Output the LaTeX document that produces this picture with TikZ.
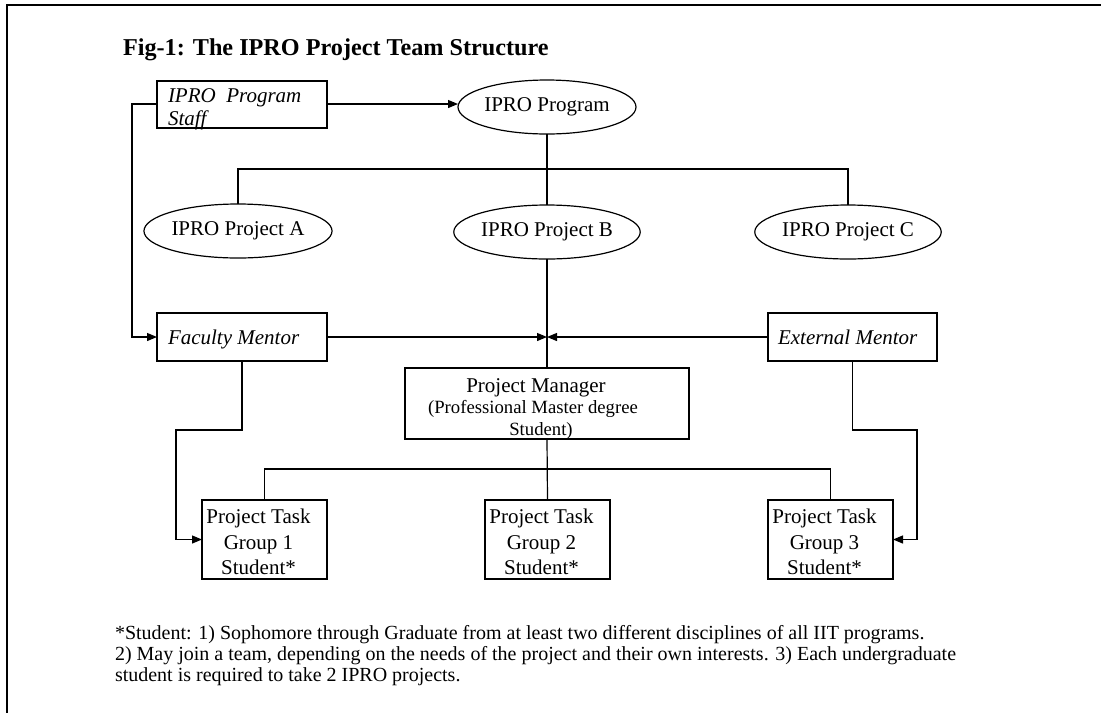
\documentclass[tikz,border=0pt]{standalone}
\usepackage{fontspec}
\setmainfont{Liberation Serif}
\usetikzlibrary{shapes.geometric,arrows.meta}
\begin{document}
\begin{tikzpicture}[x=1pt,y=-1pt,
  every node/.style={inner sep=0pt,outer sep=0pt},
  body/.style={font=\fontsize{21}{25}\selectfont},
  small/.style={font=\fontsize{18.7}{21}\selectfont},
  foot/.style={font=\fontsize{20}{23}\selectfont},
  oval/.style={ellipse,draw,line width=1.2pt,minimum width=178pt,minimum height=54pt,body},
  box/.style={rectangle,draw,line width=1.2pt},
  conn/.style={line width=1.2pt},
  arr/.style={line width=1.2pt,-{Triangle[length=10pt,width=8pt]}}]
\useasboundingbox (0,0) rectangle (1101,713);
\draw[line width=2pt] (1101,5) -- (7,5) -- (7,713);
\node[anchor=base west,font=\fontsize{24.2}{28}\selectfont\bfseries] (title) at (123,55) {Fig-1: The IPRO Project Team Structure};
% boxes
\node[box,minimum width=170pt,minimum height=47pt] (staff) at (242,104.5) {};
\node[anchor=base west,body] (stafft1) at (168,102) {\itshape IPRO\ \ Program};
\node[anchor=base west,body] (stafft2) at (168,125) {\itshape Staff};
\node[oval] (prog) at (547,107) {IPRO Program};
\node[oval] (A) at (238,231) {IPRO Project A};
\node[oval] (B) at (547,232) {IPRO Project B};
\node[oval] (C) at (848,232) {IPRO Project C};
\node[box,minimum width=170pt,minimum height=48pt] (fac) at (242,337) {};
\node[anchor=base west,body] (fact) at (168,344) {\itshape Faculty Mentor};
\node[box,minimum width=169pt,minimum height=48pt] (ext) at (852.5,337) {};
\node[anchor=base west,body] (extt) at (778,344) {\itshape External Mentor};
\node[box,minimum width=284pt,minimum height=71pt] (man) at (547,403.5) {};
\node[anchor=base,body] (mant1) at (536,392) {Project Manager};
\node[anchor=base,small] (mant2) at (533,413) {(Professional Master degree};
\node[anchor=base,small] (mant3) at (541,435) {Student)};
\node[box,minimum width=125pt,minimum height=79pt] (g1) at (264.5,539.5) {};
\node[box,minimum width=125pt,minimum height=79pt] (g2) at (547.5,539.5) {};
\node[box,minimum width=125pt,minimum height=79pt] (g3) at (830.5,539.5) {};
\foreach \n/\x/\k in {g1t/258.5/1,g2t/541.5/2,g3t/824.5/3}{
  \node[anchor=base,body] (\n a) at (\x,523) {Project Task};
  \node[anchor=base,body] (\n b) at (\x,549) {Group \k};
  \node[anchor=base,body] (\n c) at (\x,574) {Student*};
}
% footnote
\node[anchor=base west,foot] (fn1) at (115,639) {*Student: 1) Sophomore through Graduate from at least two different disciplines of all IIT programs.};
\node[anchor=base west,foot] (fn2) at (115,660) {2) May join a team, depending on the needs of the project and their own interests. 3) Each undergraduate};
\node[anchor=base west,foot] (fn3) at (115,681) {student is required to take 2 IPRO projects.};
% coordinates
\coordinate (bus) at (547,169);
\coordinate (meet) at (547,337);
\coordinate (lx) at (132,104);
\coordinate (fbend) at (176,430);
\coordinate (ebend) at (917,430);
\coordinate (gbus) at (547,469);
% connectors
\draw[arr] (staff.east |- lx) -- (prog.west |- lx);
\draw[conn] (prog.south) -- (B.north);
\draw[conn] (A.north) -- (A.north |- bus) -- (C.north |- bus) -- (C.north);
\draw[conn] (B.south) -- (man.north);
\draw[arr] (fac.east) -- (meet);
\draw[arr] (ext.west) -- (meet);
\draw[arr] (staff.west |- lx) -- (lx) |- (fac.west);
\draw[arr] (fac.south) |- (fbend) |- (g1.west);
\draw[arr] (ext.south) |- (ebend) |- (g3.east);
\draw[conn] (man.south) -- (g2.north);
\draw[conn] (g1.north) -- (g1.north |- gbus) -- (g3.north |- gbus) -- (g3.north);
\end{tikzpicture}
\end{document}
